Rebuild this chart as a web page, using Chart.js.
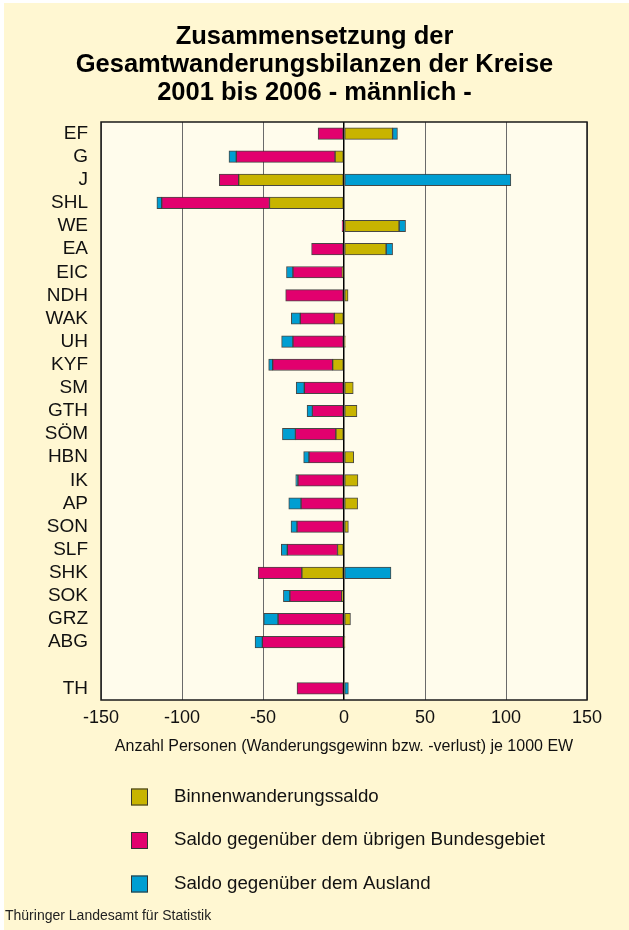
<!DOCTYPE html>
<html>
<head>
<meta charset="utf-8">
<script src="https://cdn.jsdelivr.net/npm/chart.js@4"></script>
<style>
    html, body { margin: 0; padding: 0; background: #ffffff; }
    #wrap { width: 629px; height: 930px; position: relative; }
</style>
</head>
<body>
<div id="wrap"><canvas id="myChart" width="629" height="930"></canvas></div>
<script>
// Kreise (leerer Eintrag = Abstand vor Thüringen)
const categories = ['EF', 'G', 'J', 'SHL', 'WE', 'EA', 'EIC', 'NDH', 'WAK', 'UH', 'KYF', 'SM', 'GTH', 'SÖM',
    'HBN', 'IK', 'AP', 'SON', 'SLF', 'SHK', 'SOK', 'GRZ', 'ABG', '', 'TH'];

// Werte je 1000 EW
const binnen = [30, -5.5, -65, -46, 34, 26, -1, 2.5, -6, 0.8, -7, 5.7, 8, -5, 6, 8.6, 8.4, 2.7, -4, -26,
    -1.4, 4, 0.6, null, null];
const bund = [-16, -61, -12, -66.5, -1.2, -20, -30.5, -36, -21, -31.5, -37, -24.5, -19.5, -25, -21.6, -28.4,
    -26.5, -29, -31, -27, -32, -40.7, -50.4, null, -29];
const ausland = [3, -4.5, 103, -3, 4, 4, -4, null, -5.5, -7, -2.5, -5, -3.3, -8, -3.3, -1.4, -7.6, -3.7,
    -3.7, 29, -4, -8.8, -4.5, null, 2.7];

const xTicks = [-150, -100, -50, 0, 50, 100, 150];

const seriesNames = ['Binnenwanderungssaldo', 'Saldo gegenüber dem übrigen Bundesgebiet', 'Saldo gegenüber dem Ausland'];
const seriesColors = ['#c8b400', '#e2006e', '#009ed2'];

const FONT = "'Liberation Sans', Arial, sans-serif";

// Background, plot frame, legend and source line
const decorations = {
    id: 'decorations',
    beforeDraw(chart) {
        const ctx = chart.ctx;
        const a = chart.chartArea;
        ctx.save();
        ctx.fillStyle = '#fff7d2';
        ctx.fillRect(4, 3, chart.width - 4, chart.height - 3);
        ctx.fillStyle = '#fffcec';
        ctx.fillRect(a.left, a.top, a.right - a.left, a.bottom - a.top);
        ctx.restore();
    },
    afterDraw(chart) {
        const ctx = chart.ctx;
        const a = chart.chartArea;
        ctx.save();
        ctx.strokeStyle = '#1a1a1a';
        ctx.lineWidth = 1.5;
        ctx.strokeRect(a.left, a.top, a.right - a.left, a.bottom - a.top);

        // legend
        ctx.font = '18.7px ' + FONT;
        ctx.textBaseline = 'middle';
        chart.data.datasets.forEach((ds, i) => {
            const y = 796.5 + i * 43.5;
            ctx.fillStyle = ds.backgroundColor;
            ctx.fillRect(131, y - 8, 17, 17);
            ctx.strokeStyle = '#333';
            ctx.lineWidth = 1;
            ctx.strokeRect(131.5, y - 7.5, 16, 16);
            ctx.fillStyle = '#111';
            ctx.fillText(ds.label, 174, y);
        });

        ctx.font = '14px ' + FONT;
        ctx.fillStyle = '#222';
        ctx.fillText('Thüringer Landesamt für Statistik', 5, 916);
        ctx.restore();
    }
};

document.addEventListener('DOMContentLoaded', () => {
    const ctx = document.getElementById('myChart').getContext('2d');
    const allSeries = [binnen, bund, ausland];

    new Chart(ctx, {
        type: 'bar',
        data: {
            labels: categories,
            datasets: allSeries.map((values, i) => ({
                label: seriesNames[i],
                data: values,
                backgroundColor: seriesColors[i],
                borderColor: 'rgba(40, 40, 40, 0.85)',
                borderWidth: 1,
                borderSkipped: false,
                barThickness: 11.5
            }))
        },
        options: {
            indexAxis: 'y',
            responsive: false,
            animation: false,
            layout: { padding: { left: 42, right: 42, top: 0, bottom: 170 } },
            plugins: {
                legend: { display: false },
                tooltip: { enabled: false },
                title: {
                    display: true,
                    text: ['Zusammensetzung der', 'Gesamtwanderungsbilanzen der Kreise', '2001 bis 2006 - männlich -'],
                    color: '#000',
                    font: { family: FONT, size: 25.5, weight: 'bold', lineHeight: 1.098 },
                    padding: { top: 23, bottom: 15 }
                }
            },
            scales: {
                x: {
                    stacked: true,
                    min: -150,
                    max: 150,
                    afterBuildTicks: scale => { scale.ticks = xTicks.map(v => ({ value: v })); },
                    afterFit: scale => { scale.height = 60; },
                    grid: {
                        drawTicks: false,
                        color: c => (c.tick && c.tick.value === 0 ? '#000' : '#6a6a6a'),
                        lineWidth: c => (c.tick && c.tick.value === 0 ? 1.5 : 1)
                    },
                    border: { display: false },
                    ticks: {
                        color: '#111',
                        padding: 7,
                        font: { family: FONT, size: 18 }
                    },
                    title: {
                        display: true,
                        text: 'Anzahl Personen (Wanderungsgewinn bzw. -verlust) je 1000 EW',
                        color: '#111',
                        font: { family: FONT, size: 16 },
                        padding: { top: 12 }
                    }
                },
                y: {
                    stacked: true,
                    afterFit: scale => { scale.width = 59; },
                    grid: { display: false, drawTicks: false },
                    border: { display: false },
                    ticks: {
                        color: '#111',
                        padding: 13,
                        autoSkip: false,
                        font: { family: FONT, size: 19 }
                    }
                }
            }
        },
        plugins: [decorations]
    });
});
</script>
</body>
</html>
